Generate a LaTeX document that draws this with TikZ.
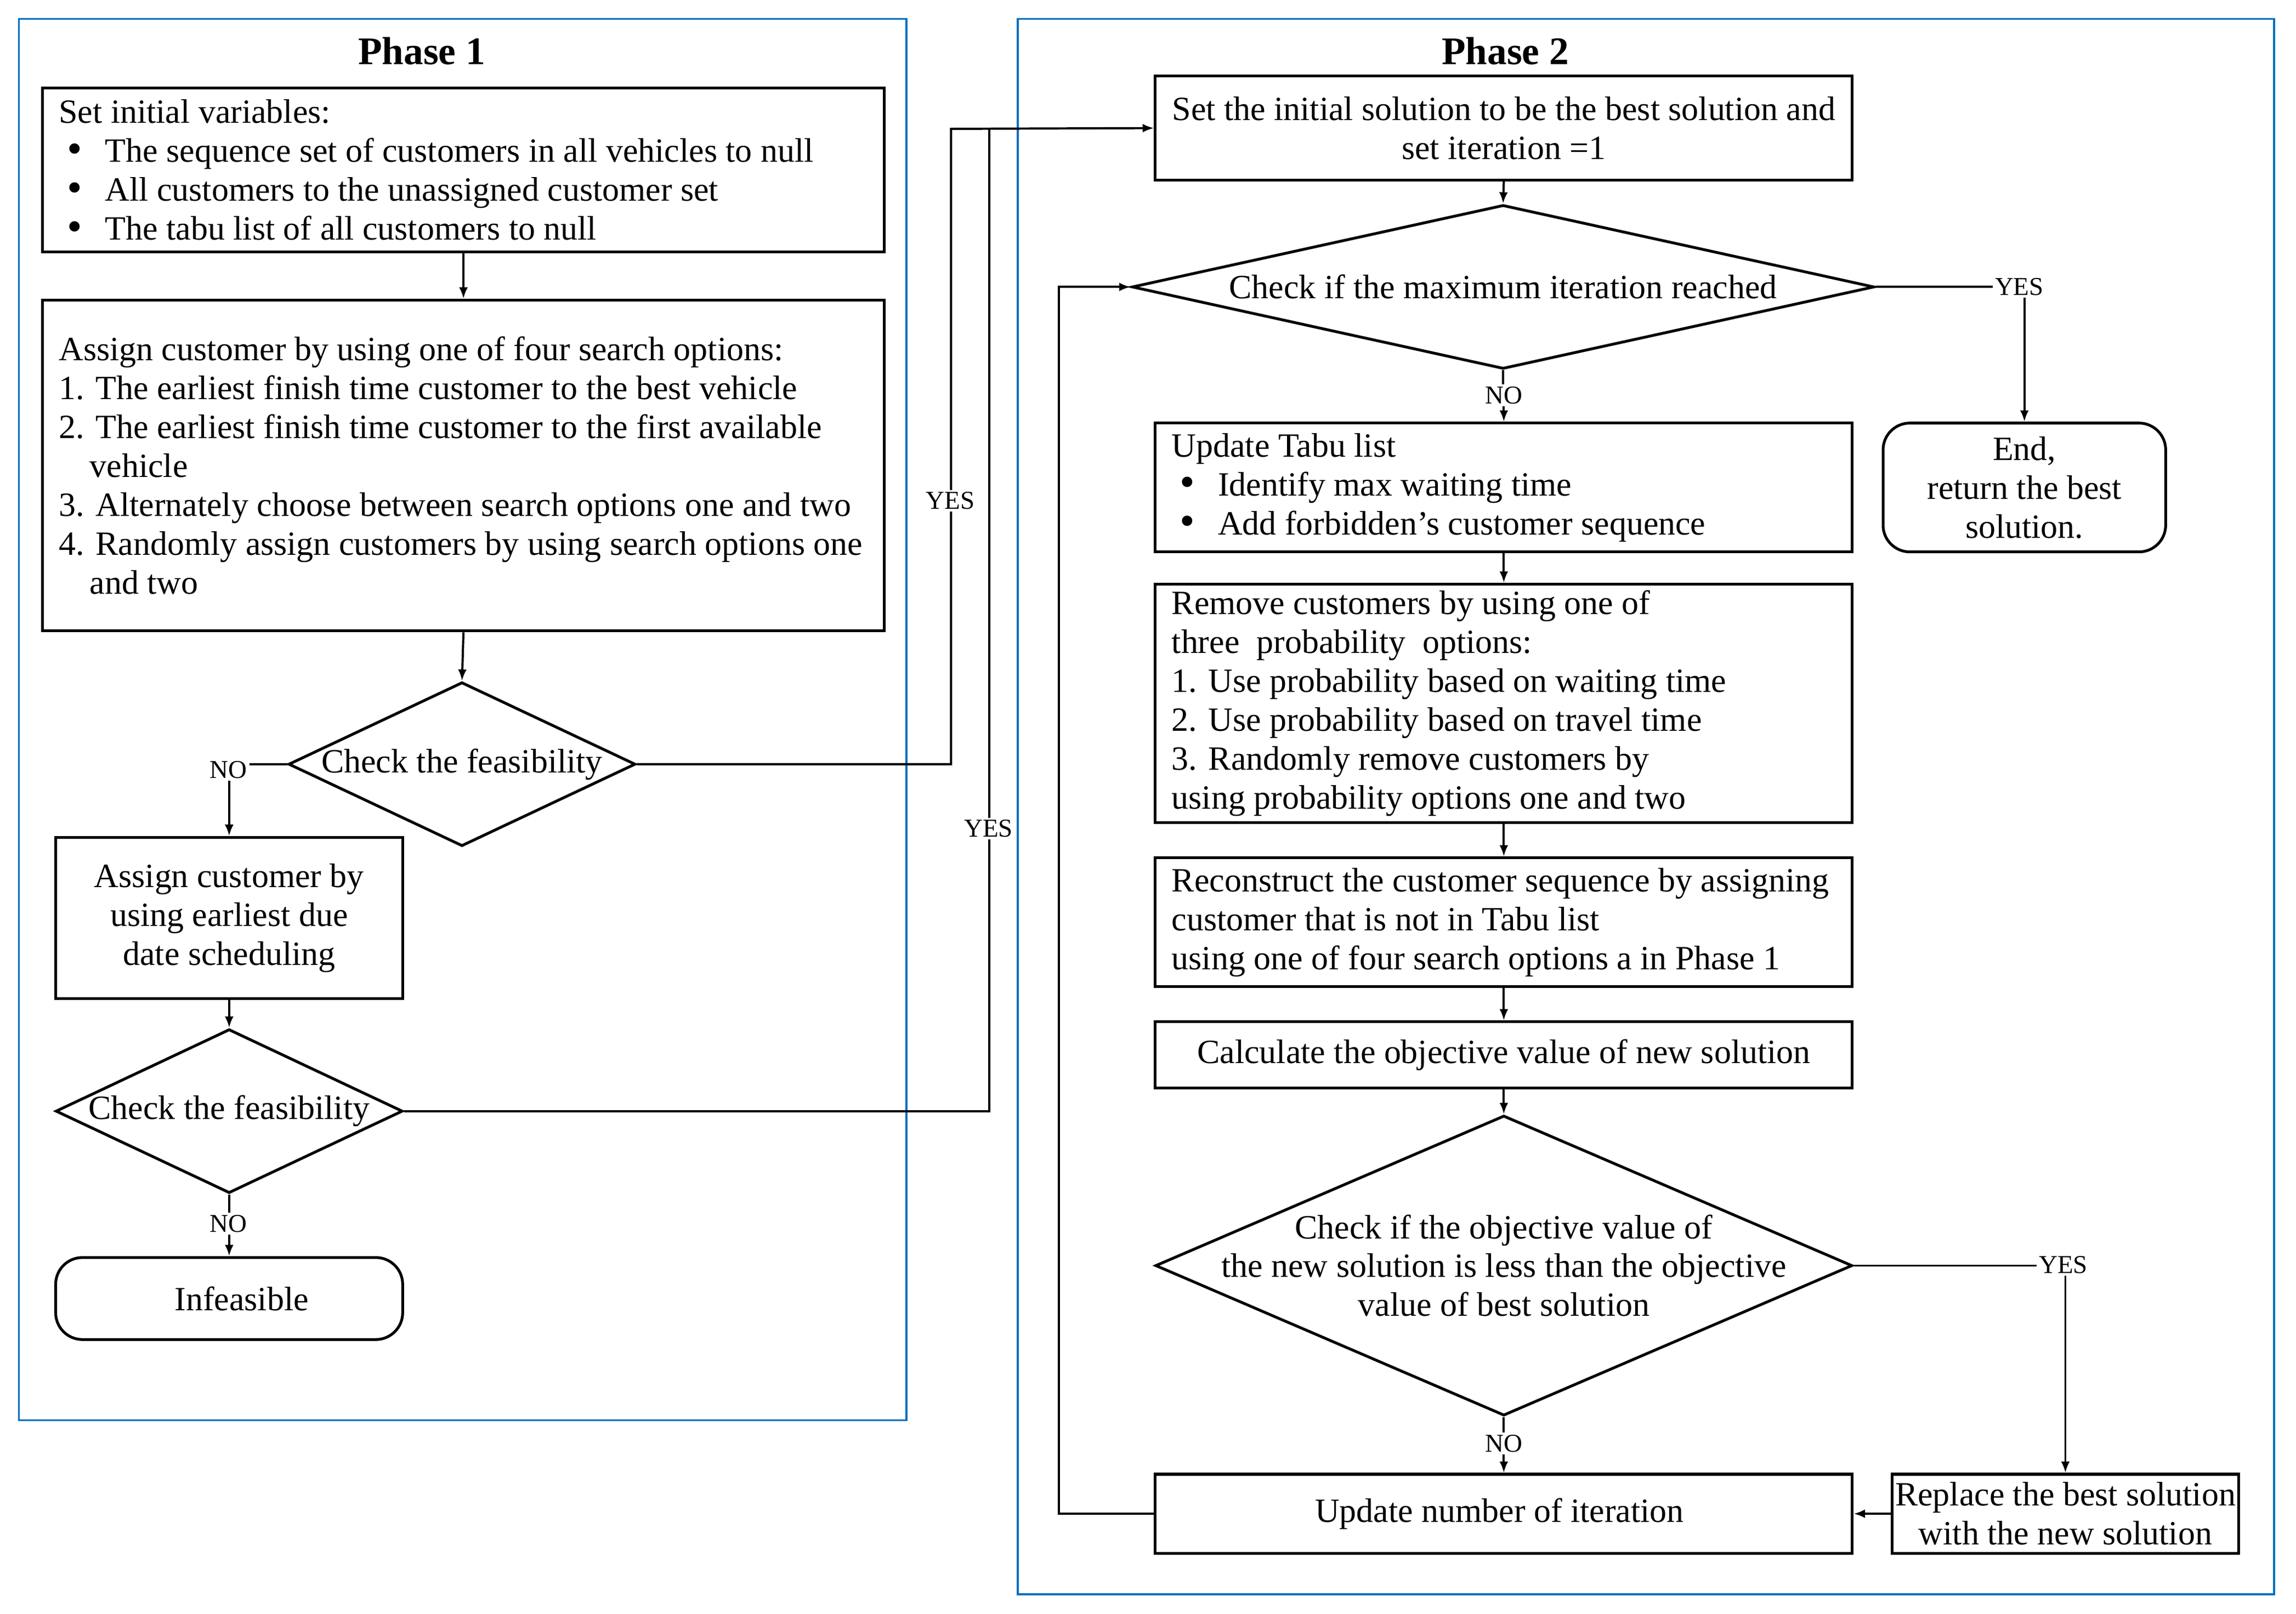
\documentclass[tikz,border=0pt]{standalone}
\usepackage{fontspec}
\setmainfont{Liberation Serif}
\usetikzlibrary{arrows.meta,shapes.geometric,calc}
\definecolor{frameblue}{RGB}{0,112,192}
\newcommand{\mybul}{\smash{\raisebox{-1pt}{\fontsize{42}{42}\selectfont\textbullet}}}
\newcommand{\myitem}[1]{\hspace*{8pt}\makebox[37pt][l]{\mybul}#1}
\begin{document}
\begin{tikzpicture}[x=0.05cm,y=-0.05cm,
  box/.style={draw, line width=2.7pt, inner sep=0pt, rectangle},
  term/.style={box, rounded corners=26pt},
  dia/.style={draw, line width=2.7pt, diamond, inner sep=0pt},
  txt/.style={inner sep=0pt, font=\fontsize{33}{37.8}\selectfont},
  ltxt/.style={txt, anchor=west, align=left, xshift=0.6cm},
  ctxt/.style={txt, align=center},
  lbl/.style={inner sep=2pt, fill=white, font=\fontsize{25}{28}\selectfont},
  conn/.style={line width=2.1pt},
  arr/.style={conn, -{Latex[length=11pt,width=8.5pt]}},
  frame/.style={draw=frameblue, line width=1.8pt},
  title/.style={inner sep=0pt, font=\fontsize{38}{44}\selectfont\bfseries}
]
\useasboundingbox (0,0) rectangle (1568,1102.5);
\fill[white] (0,0) rectangle (1568,1102.5);

% phase frames
\draw[frame] (13,13) rectangle (619,970);
\draw[frame] (695,13) rectangle (1553,1089);
\node[title] (t1) at (288,35) {Phase 1};
\node[title] (t2) at (1028,35) {Phase 2};

% ---------- Phase 1 ----------
\node[box, minimum width=28.75cm, minimum height=5.6cm] (A) at (316.5,116) {};
\node[ltxt] (Atxt) at (A.west) {Set initial variables:\\
\myitem{The sequence set of customers in all vehicles to null}\\
\myitem{All customers to the unassigned customer set}\\
\myitem{The tabu list of all customers to null}};

\node[box, minimum width=28.75cm, minimum height=11.3cm] (B) at (316.5,318) {};
\node[ltxt] (Btxt) at (B.west) {Assign customer by using one of four search options:\\
1. The earliest finish time customer to the best vehicle\\
2. The earliest finish time customer to the first available\\
\hspace*{30pt}vehicle\\
3. Alternately choose between search options one and two\\
4. Randomly assign customers by using search options one\\
\hspace*{30pt}and two};

\node[dia, minimum width=11.85cm, minimum height=5.6cm] (D1) at (315.5,522) {};
\node[ctxt] (D1txt) at (D1.center) {Check the feasibility};

\node[box, minimum width=11.85cm, minimum height=5.5cm] (C) at (156.5,627) {};
\node[ctxt] (Ctxt) at (C.center) {Assign customer by\\using earliest due\\date scheduling};

\node[dia, minimum width=11.85cm, minimum height=5.6cm] (D2) at (156.5,759) {};
\node[ctxt] (D2txt) at (D2.center) {Check the feasibility};

\node[term, minimum width=11.85cm, minimum height=2.8cm] (Inf) at (156.5,887) {};
\node[ctxt] (Inftxt) at (165,887) {Infeasible};

% ---------- Phase 2 ----------
\node[box, minimum width=23.8cm, minimum height=3.55cm] (P) at (1027,87.5) {};
\node[ctxt] (Ptxt) at (P.center) {Set the initial solution to be the best solution and\\set iteration =1};

\node[dia, minimum width=25.35cm, minimum height=5.6cm] (M) at (1026.5,196) {};
\node[ctxt] (Mtxt) at (M.center) {Check if the maximum iteration reached};

\node[box, minimum width=23.8cm, minimum height=4.4cm] (T) at (1027,333) {};
\node[ltxt] (Ttxt) at (T.west) {Update Tabu list\\
\myitem{Identify max waiting time}\\
\myitem{Add forbidden’s customer sequence}};

\node[term, minimum width=9.65cm, minimum height=4.4cm] (E) at (1382.5,333) {};
\node[ctxt] (Etxt) at (E.center) {End,\\return the best\\solution.};

\node[box, minimum width=23.8cm, minimum height=8.15cm] (R) at (1027,480.5) {};
\node[ltxt] (Rtxt) at (R.west) {Remove customers by using one of\\
three~ probability~ options:\\
1. Use probability based on waiting time\\
2. Use probability based on travel time\\
3. Randomly remove customers by\\
using probability options one and two};

\node[box, minimum width=23.8cm, minimum height=4.4cm] (Rc) at (1027,630) {};
\node[ltxt] (Rctxt) at (Rc.west) {Reconstruct the customer sequence by assigning\\
customer that is not in Tabu list\\
using one of four search options a in Phase 1};

\node[box, minimum width=23.8cm, minimum height=2.25cm] (Ca) at (1027,720.5) {};
\node[ctxt] (Catxt) at (Ca.center) {Calculate the objective value of new solution};

\node[dia, minimum width=23.8cm, minimum height=10.25cm] (O) at (1027,864.5) {};
\node[ctxt] (Otxt) at (O.center) {Check if the objective value of\\the new solution is less than the objective\\value of best solution};

\node[box, minimum width=23.8cm, minimum height=2.7cm] (U) at (1027,1034) {};
\node[ctxt] (Utxt) at (1024,1034) {Update number of iteration};

\node[box, minimum width=11.85cm, minimum height=2.7cm] (Rp) at (1410.5,1034) {};
\node[ctxt] (Rptxt) at (Rp.center) {Replace the best solution\\with the new solution};

% ---------- labels ----------
\node[lbl] (no1) at (156,526) {NO};
\node[lbl] (no2) at (156,836) {NO};
\node[lbl] (no3) at (1027,270) {NO};
\node[lbl] (no4) at (1027,986) {NO};
\node[lbl] (yes3) at (1379,196) {YES};
\node[lbl] (yes4) at (1409,864) {YES};

\coordinate (j1) at (649.5,88);
\coordinate (j2) at (675.5,88);
\coordinate (lp) at (723,1034);

% ---------- connectors ----------
\draw[arr] (A.south) -- (B.north);
\draw[arr] (B.south) -- (D1.north);
\draw[conn] (D1.west) -- (D1.west -| no1.east);
\draw[arr] (no1.south -| C.north) -- (C.north);
\draw[arr] (C.south) -- (D2.north);
\draw[conn] (D2.south) -- (D2.south |- no2.north);
\draw[arr] (no2.south -| Inf.north) -- (Inf.north);
\draw[arr] (D1.east) -| (j1) -- (P.west);
\draw[conn] (D2.east) -| (j2);

\draw[arr] (P.south) -- (M.north);
\draw[conn] (M.south) -- (M.south |- no3.north);
\draw[arr] (no3.south -| T.north) -- (T.north);
\draw[conn] (M.east) -- (M.east -| yes3.west);
\draw[arr] (yes3.south -| E.north) -- (E.north);
\draw[arr] (T.south) -- (R.north);
\draw[arr] (R.south) -- (Rc.north);
\draw[arr] (Rc.south) -- (Ca.north);
\draw[arr] (Ca.south) -- (O.north);
\draw[conn] (O.south) -- (O.south |- no4.north);
\draw[arr] (no4.south -| U.north) -- (U.north);
\draw[conn] (O.east) -- (O.east -| yes4.west);
\draw[arr] (yes4.south -| Rp.north) -- (Rp.north);
\draw[arr] (Rp.west) -- (U.east);
\draw[arr] (U.west) -- (lp) |- (M.west);

\node[lbl] (yes1) at (649,342) {YES};
\node[lbl] (yes2) at (675,566) {YES};
\end{tikzpicture}
\end{document}
